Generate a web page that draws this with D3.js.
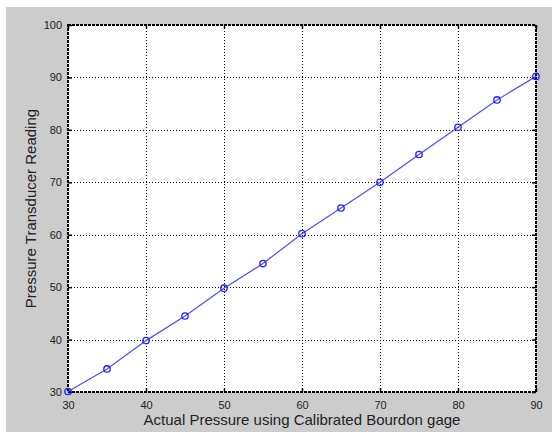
<!DOCTYPE html>
<html>
<head>
<meta charset="utf-8">
<script src="https://cdn.jsdelivr.net/npm/d3@7"></script>
<style>
html,body{margin:0;padding:0;background:#fff;}
svg{display:block;}
</style>
</head>
<body>
<svg id="chart" width="552" height="433"></svg>
<script>
const actualPressure = [30, 35, 40, 45, 50, 55, 60, 65, 70, 75, 80, 85, 90];
const transducerReading = [30.1, 34.4, 39.8, 44.5, 49.8, 54.5, 60.2, 65.1, 70.0, 75.3, 80.5, 85.7, 90.2];
const xTicks = [30, 40, 50, 60, 70, 80, 90];
const yTicks = [30, 40, 50, 60, 70, 80, 90, 100];
const xLabel = "Actual Pressure using Calibrated Bourdon gage";
const yLabel = "Pressure Transducer Reading";

const svg = d3.select("#chart");
const W = 552, H = 433;
const m = {left: 68, top: 25, right: 536, bottom: 392};

svg.append("rect").attr("x", 6).attr("y", 7).attr("width", W - 6).attr("height", H - 8).attr("fill", "#cccccc");

const x = d3.scaleLinear().domain([30, 90]).range([m.left, m.right]);
const y = d3.scaleLinear().domain([30, 100]).range([m.bottom, m.top]);

svg.append("rect").attr("x", m.left).attr("y", m.top)
  .attr("width", m.right - m.left).attr("height", m.bottom - m.top).attr("fill", "#fff");

// grid
const grid = svg.append("g").attr("stroke", "#000").attr("stroke-width", 1).attr("stroke-dasharray", "1,2");
grid.selectAll("line.gx").data(xTicks.filter(d => d > 30 && d < 90)).join("line")
  .attr("x1", d => Math.round(x(d)) + 0.5).attr("x2", d => Math.round(x(d)) + 0.5)
  .attr("y1", m.top).attr("y2", m.bottom);
grid.selectAll("line.gy").data(yTicks.filter(d => d > 30 && d < 100)).join("line")
  .attr("class", "gy")
  .attr("y1", d => Math.round(y(d)) + 0.5).attr("y2", d => Math.round(y(d)) + 0.5)
  .attr("x1", m.left).attr("x2", m.right);

// axes via d3 axis (inward ticks)
const fontFam = "'Liberation Sans', Arial, sans-serif";
function styleAxis(g) {
  g.select(".domain").remove();
  g.selectAll(".tick line").attr("stroke", "#000").attr("stroke-width", 1.5);
  g.selectAll(".tick text").attr("fill", "#222").style("font-family", fontFam).style("font-size", "11px");
}
svg.append("g").attr("transform", `translate(0,${m.bottom})`)
  .call(d3.axisBottom(x).tickValues(xTicks).tickFormat(d3.format("d")).tickSizeInner(-4).tickPadding(9))
  .call(styleAxis);
svg.append("g").attr("transform", `translate(0,${m.top})`)
  .call(d3.axisTop(x).tickValues(xTicks).tickFormat("").tickSizeInner(-4))
  .call(styleAxis);
svg.append("g").attr("transform", `translate(${m.left},0)`)
  .call(d3.axisLeft(y).tickValues(yTicks).tickFormat(d3.format("d")).tickSizeInner(-4).tickPadding(6))
  .call(styleAxis);
svg.append("g").attr("transform", `translate(${m.right},0)`)
  .call(d3.axisRight(y).tickValues(yTicks).tickFormat("").tickSizeInner(-4))
  .call(styleAxis);

// box
svg.append("rect").attr("x", m.left).attr("y", m.top)
  .attr("width", m.right - m.left).attr("height", m.bottom - m.top)
  .attr("fill", "none").attr("stroke", "#000").attr("stroke-width", 2).attr("stroke-dasharray", "3,1");

// line
const pts = actualPressure.map((v, i) => [v, transducerReading[i]]);
svg.append("path").datum(pts)
  .attr("fill", "none").attr("stroke", "#4d4dff").attr("stroke-width", 1.2)
  .attr("d", d3.line().x(d => x(d[0])).y(d => y(d[1])));
svg.selectAll("circle.pt").data(pts).join("circle")
  .attr("class", "pt")
  .attr("cx", d => x(d[0])).attr("cy", d => y(d[1])).attr("r", 3.2)
  .attr("fill", "none").attr("stroke", "#1f1fff").attr("stroke-width", 1.3);

// labels
svg.append("text").attr("x", (m.left + m.right) / 2).attr("y", 425)
  .attr("text-anchor", "middle").attr("fill", "#222")
  .style("font-family", fontFam).style("font-size", "15px").text(xLabel);
svg.append("text").attr("transform", `translate(36,${(m.top + m.bottom) / 2}) rotate(-90)`)
  .attr("text-anchor", "middle").attr("fill", "#222")
  .style("font-family", fontFam).style("font-size", "15px").text(yLabel);
</script>
</body>
</html>
